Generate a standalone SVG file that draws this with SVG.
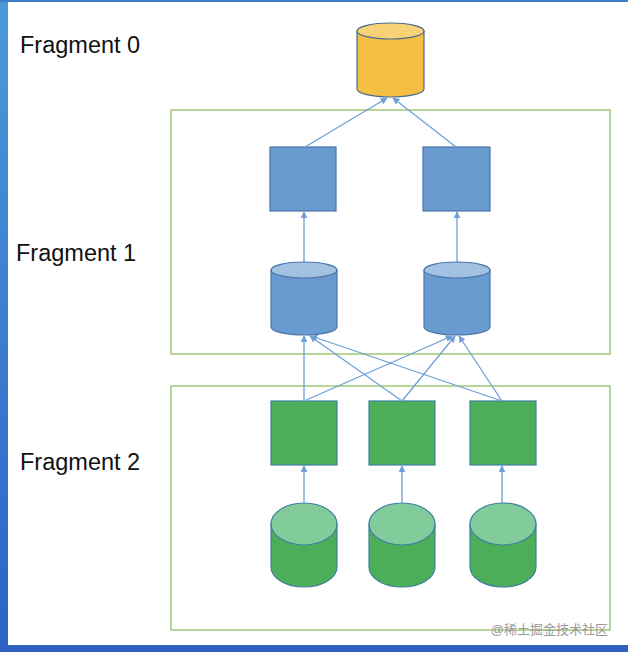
<svg xmlns="http://www.w3.org/2000/svg" width="628" height="652" viewBox="0 0 628 652">
<style>
.lbl{font-family:"Liberation Sans",Arial,sans-serif;font-size:23.5px;fill:#111}
.frame{fill:none;stroke:#8fc060;stroke-width:1.3}
.bsq{fill:#6a9bd0;stroke:#4a76a8;stroke-width:1.2}
.gsq{fill:#4cae59;stroke:#3f7fa0;stroke-width:1.2}
.conn line{stroke:#6f9fd6;stroke-width:1.3;marker-end:url(#ah)}
</style>
<defs>
<marker id="ah" viewBox="0 0 10 10" refX="9" refY="5" markerWidth="7" markerHeight="7" orient="auto-start-reverse" markerUnits="userSpaceOnUse"><path d="M0,0L10,5L0,10z" fill="#6f9fd6"/></marker>
<linearGradient id="lg" x1="0" y1="0" x2="0" y2="1"><stop offset="0" stop-color="#4a9ad8"/><stop offset="1" stop-color="#2d62c8"/></linearGradient>
</defs>
<rect width="628" height="652" fill="#fff"/>
<rect x="0" y="0" width="8" height="652" fill="url(#lg)"/>
<rect x="0" y="0" width="628" height="2" fill="#3d7cc8"/>
<rect x="0" y="645" width="628" height="7" fill="#2f62c0"/>
<text class="lbl" x="20" y="53">Fragment 0</text>
<text class="lbl" x="16" y="261">Fragment 1</text>
<text class="lbl" x="20" y="470">Fragment 2</text>
<rect class="frame" x="171" y="110" width="439" height="244"/>
<rect class="frame" x="171" y="386" width="439" height="244"/>
<g id="f0db"><path d="M357,31 v58 a33.5,8 0 0 0 67,0 v-58 z" fill="#f4bf42" stroke="#4a6a90" stroke-width="1.2"/><ellipse cx="390.5" cy="31" rx="33.5" ry="8" fill="#f8d276" stroke="#4a6a90" stroke-width="1.2"/></g>
<g id="b1"><rect class="bsq" x="270" y="147" width="66" height="64"/></g>
<g id="b2"><rect class="bsq" x="423" y="147" width="67" height="64"/></g>
<g id="bdb1"><path d="M271,270 v57 a33,8 0 0 0 66,0 v-57 z" fill="#6a9bd0" stroke="#4a76a8" stroke-width="1.2"/><ellipse cx="304" cy="270" rx="33" ry="8" fill="#a3c1e2" stroke="#4a76a8" stroke-width="1.2"/></g>
<g id="bdb2"><path d="M424,270 v57 a33,8 0 0 0 66,0 v-57 z" fill="#6a9bd0" stroke="#4a76a8" stroke-width="1.2"/><ellipse cx="457" cy="270" rx="33" ry="8" fill="#a3c1e2" stroke="#4a76a8" stroke-width="1.2"/></g>
<g id="g1"><rect class="gsq" x="271" y="401" width="66" height="64"/></g>
<g id="g2"><rect class="gsq" x="369" y="401" width="66" height="64"/></g>
<g id="g3"><rect class="gsq" x="470" y="401" width="66" height="64"/></g>
<g id="gdb1"><path d="M271,524 v43 a33,20 0 0 0 66,0 v-43 z" fill="#4cae59" stroke="#3f7fa0" stroke-width="1.2"/><ellipse cx="304" cy="524" rx="33" ry="21" fill="#82cc9c" stroke="#3f7fa0" stroke-width="1.2"/></g>
<g id="gdb2"><path d="M369,524 v43 a33,20 0 0 0 66,0 v-43 z" fill="#4cae59" stroke="#3f7fa0" stroke-width="1.2"/><ellipse cx="402" cy="524" rx="33" ry="21" fill="#82cc9c" stroke="#3f7fa0" stroke-width="1.2"/></g>
<g id="gdb3"><path d="M470,524 v43 a33,20 0 0 0 66,0 v-43 z" fill="#4cae59" stroke="#3f7fa0" stroke-width="1.2"/><ellipse cx="503" cy="524" rx="33" ry="21" fill="#82cc9c" stroke="#3f7fa0" stroke-width="1.2"/></g>
<g class="conn">
<line x1="305" y1="147" x2="387" y2="98"/>
<line x1="456" y1="147" x2="393" y2="98"/>
<line x1="304" y1="262" x2="304" y2="212"/>
<line x1="457" y1="262" x2="457" y2="212"/>
<line x1="304" y1="401" x2="304" y2="336"/>
<line x1="304" y1="401" x2="452" y2="336"/>
<line x1="402" y1="401" x2="310" y2="336"/>
<line x1="402" y1="401" x2="455" y2="336"/>
<line x1="502" y1="401" x2="311" y2="336"/>
<line x1="502" y1="401" x2="459" y2="336"/>
<line x1="304" y1="503" x2="304" y2="466"/>
<line x1="402" y1="503" x2="402" y2="466"/>
<line x1="502" y1="503" x2="502" y2="466"/>
</g>
<text x="608" y="634" text-anchor="end" font-family="'Liberation Sans','Noto Sans CJK SC',sans-serif" font-size="13" fill="#999">@稀土掘金技术社区</text>
</svg>
